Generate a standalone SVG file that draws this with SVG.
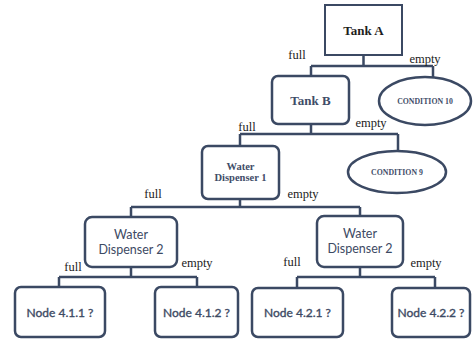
<svg xmlns="http://www.w3.org/2000/svg" width="474" height="341" viewBox="0 0 474 341">
<style>
.bx{fill:#fff;stroke:#3b4963;stroke-width:2.5}
.sq{fill:#fff;stroke:#3b4963;stroke-width:2}
.ln{fill:none;stroke:#3b4963;stroke-width:2.5}
.el{font-family:"Liberation Serif",serif;font-size:12.5px;fill:#222;text-anchor:middle}
.ser{font-family:"Liberation Serif",serif;font-weight:bold;fill:#3f4d68;text-anchor:middle}
.sans{font-family:Lato,"Liberation Sans",sans-serif;fill:#3d4a64;text-anchor:middle}
.nd{stroke:#3d4a64;stroke-width:0.35}
</style>
<rect width="474" height="341" fill="#fff"/>
<g id="connectors">
<path class="ln" d="M363.5 55V66M311 66H433M311 66V76M433 66V77"/>
<path class="ln" d="M311 124V134M240 134H398M240 134V146M398 134V151"/>
<path class="ln" d="M240 199V207M131 207H360M131 207V217M360 207V216"/>
<path class="ln" d="M131 267V277M59 277H197M59 277V287M197 277V287"/>
<path class="ln" d="M360 267V277M297 277H435M297 277V288M435 277V288"/>
</g>
<g id="edge-labels">
<text class="el" x="297" y="59">full</text>
<text class="el" x="425" y="62.5">empty</text>
<text class="el" x="247" y="131">full</text>
<text class="el" x="371" y="127">empty</text>
<text class="el" x="153" y="198">full</text>
<text class="el" x="303" y="198">empty</text>
<text class="el" x="73" y="271">full</text>
<text class="el" x="197" y="267">empty</text>
<text class="el" x="292" y="266">full</text>
<text class="el" x="426" y="267">empty</text>
</g>
<g id="tankA">
<rect class="sq" x="325" y="5" width="77" height="50"/>
<text class="ser" x="363.5" y="35" font-size="13" style="fill:#1e1e1e">Tank A</text>
</g>
<g id="tankB">
<rect class="bx" x="272" y="76" width="77" height="48" rx="6"/>
<text class="ser" x="310.5" y="104.5" font-size="13">Tank B</text>
</g>
<g id="cond10">
<ellipse class="bx" cx="425" cy="101" rx="46" ry="24"/>
<text class="ser" x="425" y="103.5" font-size="7.8">CONDITION 10</text>
</g>
<g id="wd1">
<rect class="bx" x="202" y="146" width="77" height="53" rx="6"/>
<text class="ser" x="240.5" y="170" font-size="10.5">Water</text>
<text class="ser" x="240.5" y="181" font-size="10.5">Dispenser 1</text>
</g>
<g id="cond9">
<ellipse class="bx" cx="397" cy="172" rx="49" ry="21"/>
<text class="ser" x="397" y="175" font-size="7.8">CONDITION 9</text>
</g>
<g id="wd2a">
<rect class="bx" x="85" y="217" width="92" height="50" rx="7"/>
<text class="sans" x="131" y="238.5" font-size="12.5">Water</text>
<text class="sans" x="131" y="253.5" font-size="12.5">Dispenser 2</text>
</g>
<g id="wd2b">
<rect class="bx" x="317" y="216" width="86" height="51" rx="7"/>
<text class="sans" x="360" y="238" font-size="12.5">Water</text>
<text class="sans" x="360" y="253" font-size="12.5">Dispenser 2</text>
</g>
<g id="n411">
<rect class="bx" x="15" y="287" width="90" height="50" rx="6"/>
<text class="sans nd" x="60" y="317" font-size="12">Node 4.1.1 ?</text>
</g>
<g id="n412">
<rect class="bx" x="155" y="287" width="83" height="50" rx="6"/>
<text class="sans nd" x="196.5" y="317" font-size="12">Node 4.1.2 ?</text>
</g>
<g id="n421">
<rect class="bx" x="252" y="288" width="91" height="49" rx="6"/>
<text class="sans nd" x="297.5" y="317" font-size="12">Node 4.2.1 ?</text>
</g>
<g id="n422">
<rect class="bx" x="392" y="288" width="78" height="49" rx="6"/>
<text class="sans nd" x="431" y="317" font-size="12">Node 4.2.2 ?</text>
</g>
</svg>
